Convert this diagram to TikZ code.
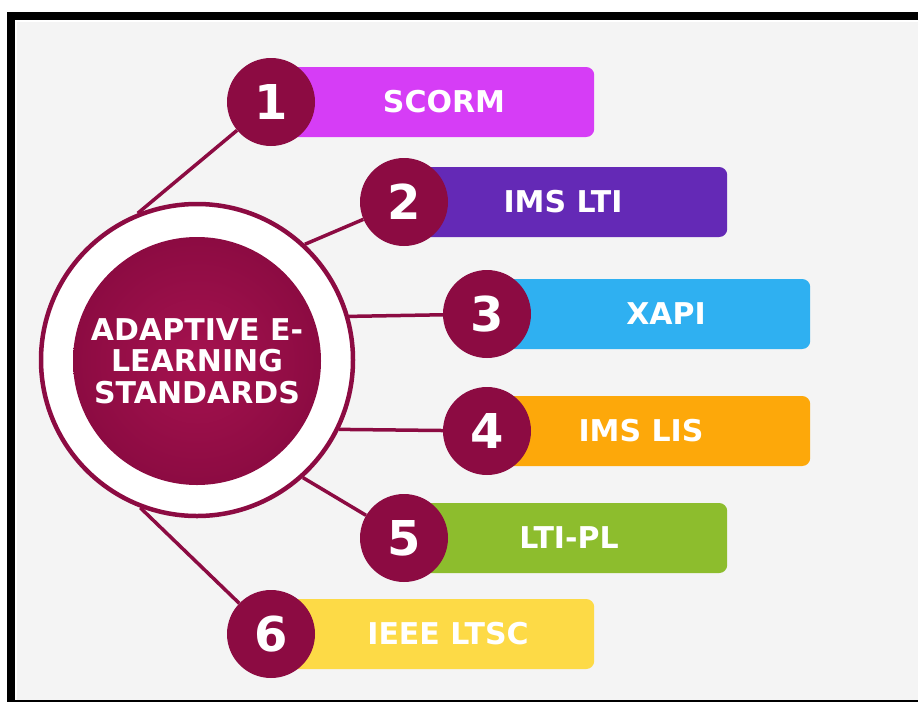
\documentclass[tikz,border=0pt]{standalone}
\usepackage{fontspec}
\setmainfont{DejaVu Sans}
\usepackage{tikz}

\definecolor{maroon}{HTML}{8C0B42}
\definecolor{maroonlight}{HTML}{A5124F}
\definecolor{backgray}{HTML}{F4F4F4}
\definecolor{scormcol}{HTML}{D63DF6}
\definecolor{ltiCol}{HTML}{6429B6}
\definecolor{xapicol}{HTML}{2FB0F1}
\definecolor{liscol}{HTML}{FDA80A}
\definecolor{plcol}{HTML}{8DBD2D}
\definecolor{ieeecol}{HTML}{FDDA46}

\tikzset{
  bar/.style={rectangle, rounded corners=8pt, anchor=west, minimum width=323pt, minimum height=70pt, inner sep=0pt},
  bartext/.style={text=white, font=\fontsize{30}{30}\selectfont\bfseries, inner sep=0pt},
  numball/.style={circle, fill=maroon, minimum size=88pt, inner sep=0pt, text=white, font=\fontsize{48}{48}\selectfont\bfseries},
  link/.style={maroon, line width=3.5pt}
}

\begin{document}
\begin{tikzpicture}[x=1pt,y=-1pt]
\useasboundingbox (0,0) rectangle (918,702);
\fill[white] (0,0) rectangle (918,702);
\fill[black] (7,12) rectangle (918,702);
\fill[white] (15,20) rectangle (918,700);
\fill[backgray] (17,22) rectangle (918,700);

% bars
\node[bar, fill=scormcol] (b1) at (271,102) {};
\node[bar, fill=ltiCol] (b2) at (404,202) {};
\node[bar, fill=xapicol] (b3) at (487,314) {};
\node[bar, fill=liscol] (b4) at (487,431) {};
\node[bar, fill=plcol] (b5) at (404,538) {};
\node[bar, fill=ieeecol] (b6) at (271,634) {};

\node[bartext] (t1) at (444,102) {SCORM};
\node[bartext] (t2) at (563,202) {IMS LTI};
\node[bartext] (t3) at (666,314) {XAPI};
\node[bartext] (t4) at (641,431) {IMS LIS};
\node[bartext] (t5) at (569,538) {LTI-PL};
\node[bartext] (t6) at (448,634) {IEEE LTSC};

% numbers
\node[numball] (n1) at (271,102) {1};
\node[numball] (n2) at (404,202) {2};
\node[numball] (n3) at (487,314) {3};
\node[numball] (n4) at (487,431) {4};
\node[numball] (n5) at (404,538) {5};
\node[numball] (n6) at (271,634) {6};

% centre
\node[circle, draw=maroon, line width=4.5pt, fill=white, minimum size=312pt, inner sep=0pt] (ring) at (197,360) {};
\node[circle, inner color=maroonlight, outer color=maroon, minimum size=248pt, inner sep=0pt,
  text=white, align=center, font=\fontsize{30}{31.5}\selectfont\bfseries] (hub) at (197,361)
  {ADAPTIVE E-\\LEARNING\\STANDARDS};

\draw[link] (ring.112) -- (n1);
\draw[link] (ring.47) -- (n2);
\draw[link] (ring.16) -- (n3);
\draw[link] (ring.-26) -- (n4);
\draw[link] (ring.-48) -- (n5);
\draw[link] (ring.-111) -- (n6);
\end{tikzpicture}
\end{document}
